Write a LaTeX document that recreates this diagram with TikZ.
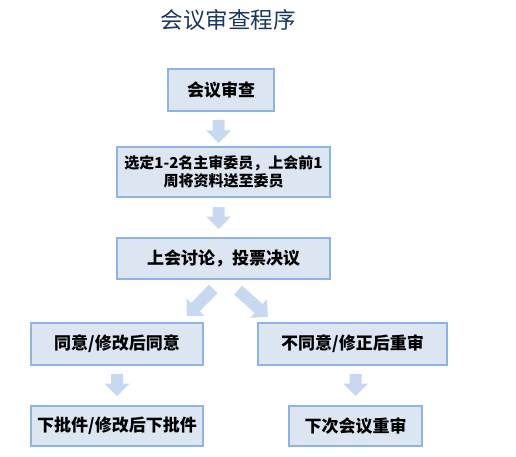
\documentclass[tikz,border=0pt]{standalone}
\usepackage{fontspec}
\setmainfont{Noto Sans CJK SC}
\definecolor{boxfill}{HTML}{DCE6F2}
\definecolor{boxline}{HTML}{8EB4E3}
\definecolor{arrfill}{HTML}{C6D9F1}
\definecolor{titlecol}{HTML}{17375E}
\tikzset{
  box/.style={draw=boxline, fill=boxfill, line width=1.6pt, inner sep=0pt,
    font=\fontsize{17}{20}\selectfont\bfseries, text=black, align=center},
  arrowbody/.style={fill=arrfill, draw=none},
}
% block arrow: #1 centre coordinate name, #2 angle, #3 length
\newcommand\myblockarrow[3]{%
  \fill[arrowbody, shift={(#1)}, rotate=#2]
    ({-#3/2},-6) -- ({#3/2-12.5},-6) -- ({#3/2-12.5},-12.5) -- ({#3/2},0)
    -- ({#3/2-12.5},12.5) -- ({#3/2-12.5},6) -- ({-#3/2},6) -- cycle;}
\begin{document}
\begin{tikzpicture}[x=1pt,y=-1pt]
\useasboundingbox (0,0) rectangle (516,457);
\node[font=\fontsize{22.5}{26}\selectfont, text=titlecol] (title) at (228,20) {会议审查程序};
\node[box, minimum width=106pt, minimum height=42pt] (b1) at (221,90) {会议审查};
\node[box, minimum width=213pt, minimum height=50pt, font=\fontsize{15}{18}\selectfont\bfseries] (b2) at (223.5,172) {选定1-2名主审委员，上会前1\\周将资料送至委员};
\node[box, minimum width=213pt, minimum height=41pt] (b3) at (223.5,258.5) {上会讨论，投票决议};
\node[box, minimum width=172pt, minimum height=42pt] (b4) at (117,344) {同意/修改后同意};
\node[box, minimum width=189pt, minimum height=42pt] (b5) at (352.5,344) {不同意/修正后重审};
\node[box, minimum width=172pt, minimum height=40pt] (b6) at (117,426) {下批件/修改后下批件};
\node[box, minimum width=133pt, minimum height=40pt] (b7) at (355.5,426) {下次会议重审};
\coordinate (a1) at (218.5,131.5);
\coordinate (a2) at (218.5,218);
\coordinate (a3) at (200,302.5);
\coordinate (a4) at (253,303.5);
\coordinate (a5) at (117,385);
\coordinate (a6) at (355.5,385);
\myblockarrow{a1}{-90}{23}
\myblockarrow{a2}{-90}{22}
\myblockarrow{a3}{-134}{38}
\myblockarrow{a4}{-42}{40}
\myblockarrow{a5}{-90}{22}
\myblockarrow{a6}{-90}{22}
\end{tikzpicture}
\end{document}
